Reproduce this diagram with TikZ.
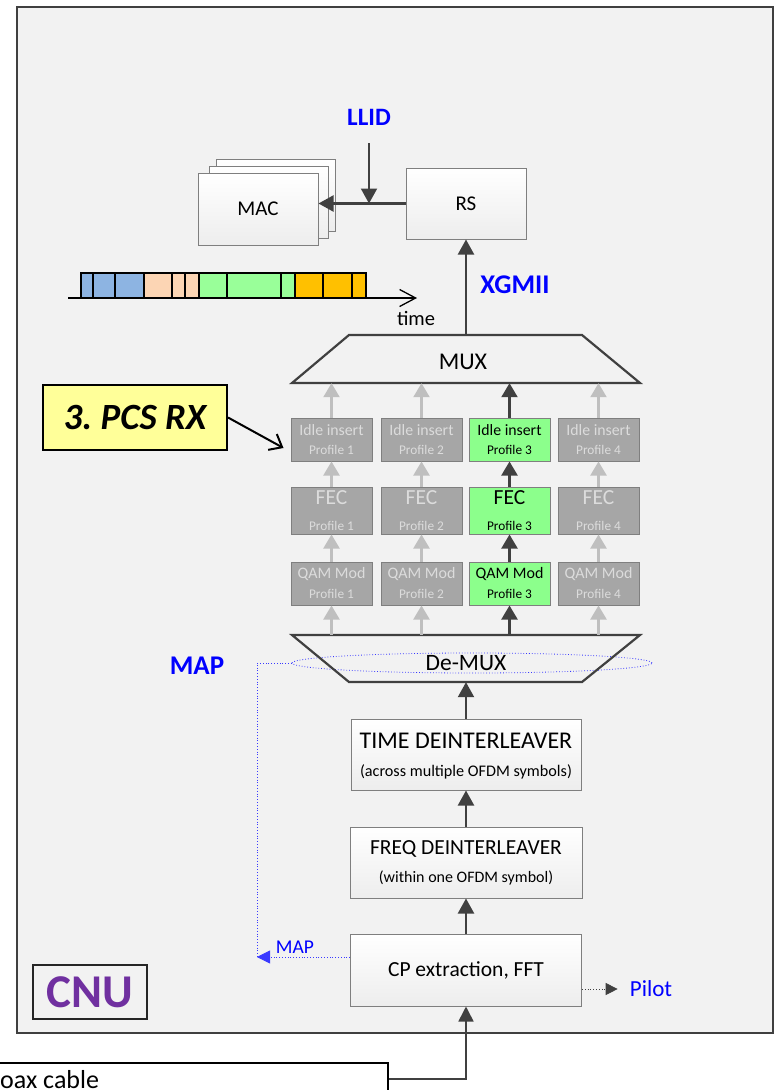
\documentclass[tikz,border=0pt]{standalone}
\usepackage{fontspec}
\setmainfont{Carlito}
\usetikzlibrary{arrows.meta,shapes.geometric}
\newcommand\fsz[1]{\fontsize{#1pt}{#1pt}\selectfont}
\definecolor{bgcol}{HTML}{F2F2F2}
\definecolor{framecol}{HTML}{404040}
\definecolor{boxline}{HTML}{7F7F7F}
\definecolor{darkarr}{HTML}{404040}
\definecolor{arrgray}{HTML}{BFBFBF}
\definecolor{boxgray}{HTML}{A6A6A6}
\definecolor{txtgray}{HTML}{DCDCDC}
\definecolor{boxgreen}{HTML}{8CFF8C}
\definecolor{lblblue}{HTML}{0000FF}
\definecolor{mapblue}{HTML}{3A3AFF}
\definecolor{pcsyellow}{HTML}{FFFF99}
\definecolor{cnupurple}{HTML}{7030A0}
\definecolor{segblue}{HTML}{8DB4E2}
\definecolor{segpeach}{HTML}{FCD5B4}
\definecolor{seggreen}{HTML}{99FF99}
\definecolor{seggold}{HTML}{FFC000}
\frenchspacing
\begin{document}
\begin{tikzpicture}[x=1pt,y=-1pt,
  framebox/.style={draw=framecol, line width=1.5pt, fill=bgcol, inner sep=0pt},
  blk/.style={draw=boxline, line width=1pt, top color=white, bottom color=black!7, inner sep=0pt},
  pbox/.style={draw=boxline, line width=1pt, minimum width=81pt, inner sep=0pt},
  txt/.style={inner sep=0pt},
  lbl/.style={inner sep=0pt, text=lblblue, font=\bfseries},
  arr/.style={draw=darkarr, line width=2.2pt, -{Triangle[length=15pt,width=16pt]}},
  parr/.style={line width=2.2pt, -{Triangle[length=14pt,width=16pt]}},
  trap/.style={draw=darkarr, line width=2.2pt, line join=miter},
  ghost/.style={inner sep=0pt, minimum width=348pt},
  mapline/.style={draw=mapblue, line width=0.8pt, dotted},
  seg/.style={draw=black, line width=1.3pt}
]
\fill[white] (0,0) rectangle (776,1090);
\useasboundingbox (0,0) rectangle (776,1090);

% CNU frame
\node[framebox, minimum width=756pt, minimum height=1026pt] (frame) at (395,520) {};

% MAC stack and RS
\node[blk, minimum width=119pt, minimum height=72pt] (mac3) at (275.5,195) {};
\node[blk, minimum width=119pt, minimum height=72pt] (mac2) at (268.5,202) {};
\node[blk, minimum width=120pt, minimum height=72pt, font=\fsz{21}] (mac) at (258,209) {MAC};
\node[blk, minimum width=120pt, minimum height=71pt, font=\fsz{21}] (rs) at (466,203.5) {RS};
\draw[arr] (rs.west) -- (rs.west -| mac.east);
\node[lbl, font=\bfseries\fsz{25}] (llid) at (369,117.5) {LLID};
\coordinate (lljoin) at (369,203.5);
\draw[arr, line width=2pt] (llid) ++(0,25.5) -- (lljoin);

% timeline
\foreach \a/\b/\c in {81/93/segblue,93/115/segblue,115/144/segblue,
  144/172/segpeach,172/185/segpeach,185/199/segpeach,
  199/227/seggreen,227/281/seggreen,281/295/seggreen,
  295/323/seggold,323/352/seggold,352/366/seggold}{
  \filldraw[seg, fill=\c] (\a,273) rectangle (\b,298);
}
\node[txt, font=\fsz{20.5}] (timelbl) at (416,318) {time};
\coordinate (tstart) at (68,298);
\coordinate (tend) at (417,298);
\draw[line width=1.3pt, -{Straight Barb[length=16pt,width=17pt]}] (tstart) -- (tend);

% MUX
\draw[trap] (349,335) -- (582,335) -- (640,383) -- (292,383) -- cycle;
\node[ghost, minimum height=48pt] (mux) at (466,359) {};
\node[txt, font=\fsz{24}] (muxlbl) at (463,362) {MUX};
\draw[arr] (mux.north) -- (rs.south);
\node[lbl, font=\bfseries\fsz{27}] (xgmii) at (515,285) {XGMII};

% De-MUX
\node[ghost, minimum height=47pt] (demux) at (466,658.5) {};
\node[draw=mapblue, line width=0.8pt, dotted, ellipse, minimum width=360pt, minimum height=20pt, inner sep=0pt] (demuxell) at (472,663) {};
\draw[trap] (292,635) -- (640,635) -- (582,682) -- (349,682) -- cycle;
\node[txt, font=\fsz{23.5}] (demuxlbl) at (466,663.5) {De-MUX};
\node[lbl, font=\bfseries\fsz{27}] (maplbl) at (197,666) {MAP};

% profile columns
\foreach \i/\x/\fc/\tc/\ac in {1/331.5/boxgray/txtgray/arrgray,
  2/421.5/boxgray/txtgray/arrgray,
  3/509.5/boxgreen/black/darkarr,
  4/598.5/boxgray/txtgray/arrgray}{
  \node[pbox, fill=\fc, minimum height=43pt] (idle\i) at (\x,439.5) {};
  \node[txt, text=\tc, font=\fsz{15.8}] (idlet\i) at (\x,430) {Idle insert};
  \node[txt, text=\tc, font=\fsz{13.3}] (idlep\i) at (\x,449.5) {Profile \i};
  \node[pbox, fill=\fc, minimum height=47pt] (fec\i) at (\x,510.5) {};
  \node[txt, text=\tc, font=\fsz{21.5}] (fect\i) at (\x,497.5) {FEC};
  \node[txt, text=\tc, font=\fsz{13.3}] (fecp\i) at (\x,526) {Profile \i};
  \node[pbox, fill=\fc, minimum height=43pt] (qam\i) at (\x,583.5) {};
  \node[txt, text=\tc, font=\fsz{16}] (qamt\i) at (\x,573.5) {QAM Mod};
  \node[txt, text=\tc, font=\fsz{13.3}] (qamp\i) at (\x,594) {Profile \i};
  \draw[parr, draw=\ac] (demux.north -| qam\i.south) -- (qam\i.south);
  \draw[parr, draw=\ac] (qam\i.north) -- (fec\i.south);
  \draw[parr, draw=\ac] (fec\i.north) -- (idle\i.south);
  \draw[parr, draw=\ac] (idle\i.north) -- (mux.south -| idle\i.north);
}

% PCS RX callout
\node[draw=black, line width=2pt, fill=pcsyellow, minimum width=184pt, minimum height=65pt, inner sep=0pt, font=\bfseries\itshape\fsz{37}] (pcs) at (135,417.5) {3. PCS RX};
\draw[line width=2pt, -{Straight Barb[length=11pt,width=18pt]}] (pcs.east) -- ([xshift=-7pt,yshift=-8.5pt]idle1.west);

% lower chain
\node[blk, minimum width=230pt, minimum height=71pt] (timed) at (466,754.5) {};
\node[txt, font=\fsz{24}] (timet) at (466,740.5) {TIME DEINTERLEAVER};
\node[txt, font=\fsz{16.2}] (timep) at (466,771.5) {(across multiple OFDM symbols)};
\node[blk, minimum width=232pt, minimum height=71pt] (freq) at (466,862.5) {};
\node[txt, font=\fsz{21.5}] (freqt) at (466,849) {FREQ DEINTERLEAVER};
\node[txt, font=\fsz{16}] (freqp) at (466,877.5) {(within one OFDM symbol)};
\node[blk, minimum width=231pt, minimum height=72pt, font=\fsz{21.5}] (cp) at (466,970) {CP extraction, FFT};
\draw[arr] (timed.north) -- (demux.south);
\draw[arr] (freq.north) -- (timed.south);
\draw[arr] (cp.north) -- (freq.south);

% MAP feedback
\coordinate (mapcorner) at (257,957);
\draw[mapline] (demuxell.west) -| (mapcorner);
\draw[mapline, -{Triangle[length=13pt,width=13pt]}] (cp.west |- mapcorner) -- (mapcorner);
\node[txt, text=lblblue, font=\fsz{19.5}] (mapsmall) at (295,947.5) {MAP};

% Pilot
\node[txt, text=lblblue, font=\fsz{23}] (pilot) at (651,989) {Pilot};
\draw[draw=darkarr, line width=0.8pt, dotted, -{Triangle[length=12pt,width=12pt]}, shorten >=12pt] (cp.east |- pilot) -- (pilot.west);

% CNU label
\node[draw=black!85, line width=2pt, minimum width=114pt, minimum height=54pt, inner sep=0pt, text=cnupurple, font=\bfseries\fsz{47}] (cnu) at (90,992) {CNU};

% coax cable
\node[draw=black, line width=1.5pt, fill=white, minimum width=393pt, minimum height=32pt, inner sep=0pt] (coax) at (191.5,1079) {};
\node[txt, anchor=base west, font=\fsz{26}] (coaxt) at (-13.9,1088) {Coax cable};
\draw[draw=darkarr, line width=1.6pt, -{Triangle[length=15pt,width=15pt]}] (coax.east) -| (cp.south);
\end{tikzpicture}
\end{document}
